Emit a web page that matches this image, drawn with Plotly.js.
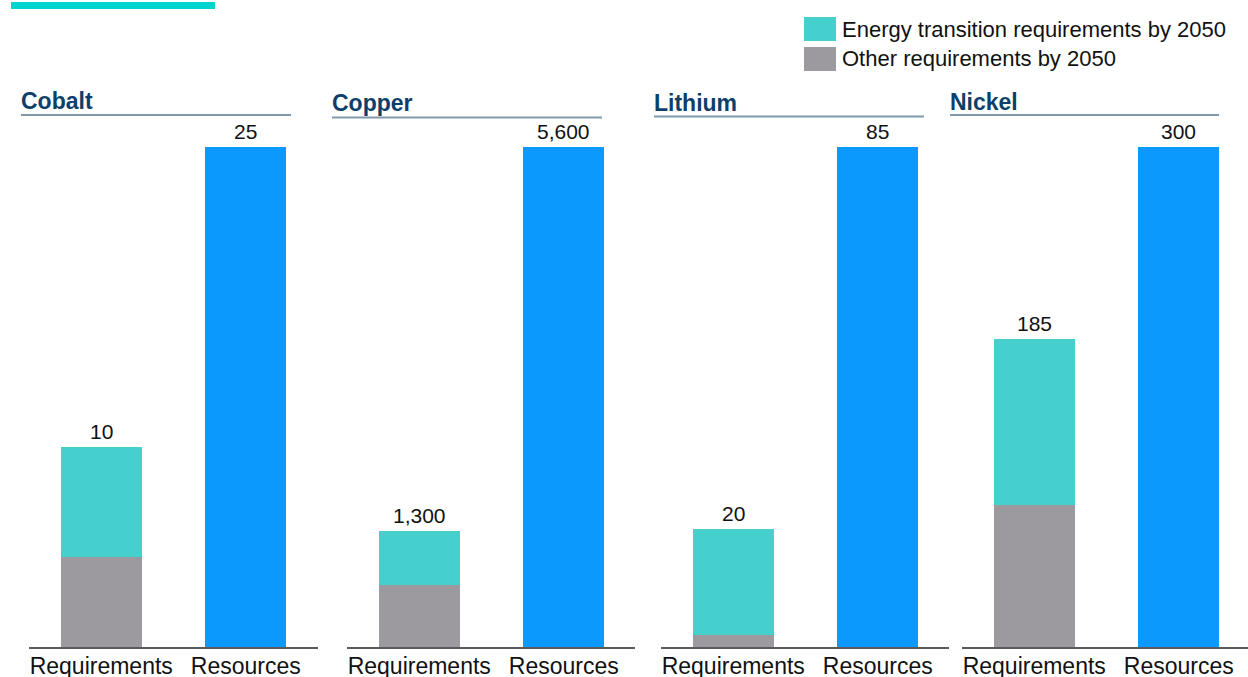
<!DOCTYPE html>
<html>
<head>
<meta charset="utf-8">
<script src="https://cdn.plot.ly/plotly-3.0.1.min.js"></script>
<style>html,body{margin:0;padding:0;background:#fff;}#chart{width:1248px;height:677px;}</style>
</head>
<body>
<div id="chart"></div>
<script>
// ---- data ----
const minerals = ['Cobalt', 'Copper', 'Lithium', 'Nickel'];
const categories = ['Requirements', 'Resources'];
const otherReq = [4.5, 700, 2, 85];
const energyReq = [5.5, 600, 18, 100];
const reqTotal = [10, 1300, 20, 185];
const resources = [25, 5600, 85, 300];
const legendLabels = ['Energy transition requirements by 2050', 'Other requirements by 2050'];

// ---- style ----
const W = 1248, H = 677, MB = 30, PH = H - MB;
const FONT = '"Liberation Sans", Arial, Helvetica, sans-serif';
const C_ENERGY = '#45cfcd', C_OTHER = '#9c9a9f', C_RES = '#0c99fe';
const C_TITLE = '#0d3f6a', C_UNDER = '#7f99ae', C_TEXT = '#111111';
const panelPx = [[29, 318], [347, 635], [661, 949], [962, 1248]];
const underPx = [[21, 291], [332, 602], [654, 924], [950, 1219]];
const underY = [115, 117.5, 116.5, 115];
const titleY = [101.5, 103, 102.5, 102];
const pxPerCat = 144.5;
const plotTop = 147; // pixel y for resources top

const px2x = p => p / W;
const px2y = p => (PH - p) / PH;

const data = [];
const layout = {
  width: W, height: H,
  margin: {l: 0, r: 0, t: 0, b: MB},
  barmode: 'stack',
  showlegend: false,
  paper_bgcolor: '#ffffff', plot_bgcolor: 'rgba(0,0,0,0)',
  font: {family: FONT, color: C_TEXT},
  shapes: [], annotations: []
};

minerals.forEach((m, i) => {
  const n = i === 0 ? '' : String(i + 1);
  const xa = 'x' + n, ya = 'y' + n;
  data.push({type: 'bar', x: [categories[0]], y: [otherReq[i]], xaxis: xa, yaxis: ya,
    marker: {color: C_OTHER, line: {width: 0}}, width: 0.56, hoverinfo: 'skip', name: legendLabels[1]});
  data.push({type: 'bar', x: [categories[0]], y: [energyReq[i]], xaxis: xa, yaxis: ya,
    marker: {color: C_ENERGY, line: {width: 0}}, width: 0.56, hoverinfo: 'skip', name: legendLabels[0]});
  data.push({type: 'bar', x: [categories[1]], y: [resources[i]], xaxis: xa, yaxis: ya,
    marker: {color: C_RES, line: {width: 0}}, width: 0.56, hoverinfo: 'skip', name: 'Resources'});

  const [a, b] = panelPx[i];
  const span = (b - a) / pxPerCat;
  layout['xaxis' + n] = {
    domain: [px2x(a), px2x(b)], anchor: ya, type: 'category',
    categoryorder: 'array', categoryarray: categories,
    range: [-0.5, -0.5 + span], fixedrange: true,
    showline: true, linecolor: '#5a5a5a', linewidth: 1.5,
    showgrid: false, zeroline: false, ticks: '', ticklabelstandoff: -2,
    tickfont: {family: FONT, size: 23, color: C_TEXT}
  };
  layout['yaxis' + n] = {
    domain: [0, (PH - plotTop) / PH], anchor: xa, range: [0, resources[i]],
    visible: false, fixedrange: true
  };

  // value labels
  [[categories[0], reqTotal[i]], [categories[1], resources[i]]].forEach(([c, v]) => {
    layout.annotations.push({xref: xa, yref: ya, x: c, y: v, text: v.toLocaleString('en-US'),
      showarrow: false, yanchor: 'bottom', yshift: 2, font: {family: FONT, size: 21, color: C_TEXT}});
  });

  // panel title + underline
  layout.annotations.push({xref: 'paper', yref: 'paper', x: px2x(underPx[i][0] - 2), y: px2y(titleY[i]),
    xanchor: 'left', yanchor: 'middle', text: '<b>' + m + '</b>', showarrow: false,
    font: {family: FONT, size: 23, color: C_TITLE}});
  layout.shapes.push({type: 'line', xref: 'paper', yref: 'paper',
    x0: px2x(underPx[i][0]), x1: px2x(underPx[i][1]), y0: px2y(underY[i]), y1: px2y(underY[i]),
    line: {color: C_UNDER, width: 2}});
});

// top accent bar
layout.shapes.push({type: 'rect', xref: 'paper', yref: 'paper', x0: px2x(11), x1: px2x(215),
  y0: px2y(2), y1: px2y(9), fillcolor: '#00d4cf', line: {width: 0}});

// legend
[[C_ENERGY, 17, 29], [C_OTHER, 47, 59]].forEach(([col, top, mid], k) => {
  layout.shapes.push({type: 'rect', xref: 'paper', yref: 'paper', x0: px2x(804), x1: px2x(836),
    y0: px2y(top), y1: px2y(top + 24), fillcolor: col, line: {width: 0}});
  layout.annotations.push({xref: 'paper', yref: 'paper', x: px2x(840), y: px2y(mid),
    xanchor: 'left', yanchor: 'middle', text: legendLabels[k], showarrow: false,
    font: {family: FONT, size: 22, color: C_TEXT}});
});

Plotly.newPlot('chart', data, layout, {displayModeBar: false, staticPlot: true});
</script>
</body>
</html>
